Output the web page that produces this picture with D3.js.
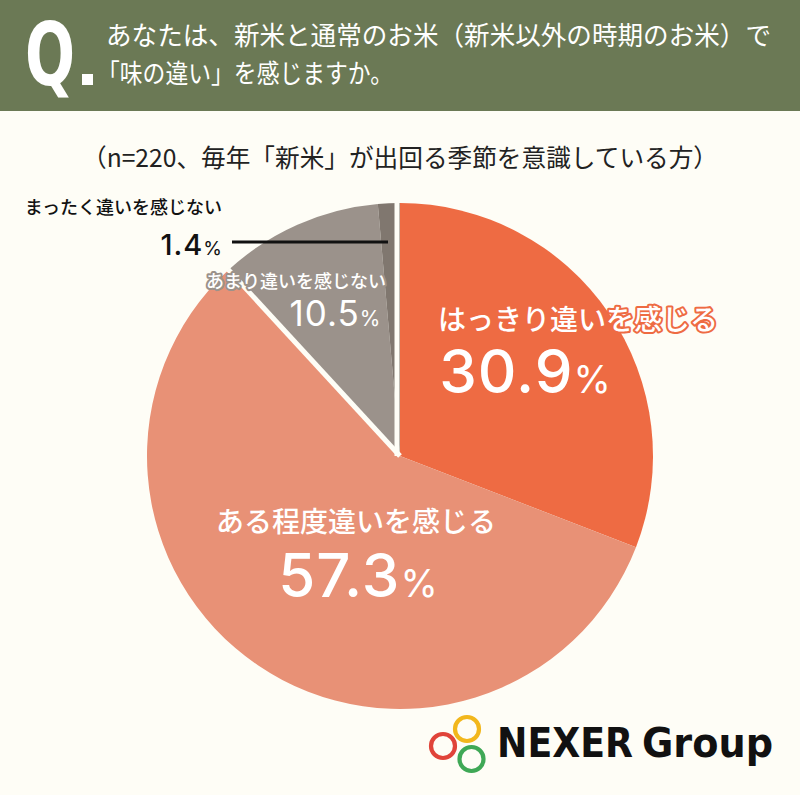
<!DOCTYPE html>
<html><head><meta charset="utf-8">
<script src="https://cdn.jsdelivr.net/npm/d3@7/dist/d3.min.js"></script>
<style>
html,body{margin:0;padding:0;background:#FEFDF6;}
svg{display:block;}
</style></head>
<body>
<svg id="chart" width="800" height="795"></svg>
<script>
// ---- data ----
const categories = ["はっきり違いを感じる","ある程度違いを感じる","あまり違いを感じない","まったく違いを感じない"];
const values = [30.9, 57.3, 10.5, 1.4];
const colors = ["#EE6B43","#E89176","#9B928B","#80776F"];
const titleLines = ["あなたは、新米と通常のお米（新米以外の時期のお米）で","「味の違い」を感じますか。"];
const subtitle = "（n=220、毎年「新米」が出回る季節を意識している方）";

// ---- layout ----
const W = 800, H = 795;
const cx = 400, cy = 456, R = 253;
const svg = d3.select("#chart");
const JP = "'Noto Sans CJK JP','Noto Sans',sans-serif";
const NUM = "Inter,'Noto Sans',sans-serif";

svg.append("rect").attr("width",W).attr("height",H).attr("fill","#FEFDF6");
svg.append("rect").attr("width",W).attr("height",111).attr("fill","#6B7955");

svg.append("text").attr("x",25).attr("y",85).text("Q")
  .attr("font-family","'Liberation Sans Narrow','DejaVu Sans Condensed',sans-serif")
  .attr("font-weight",700).attr("font-size",87).attr("fill","#fff")
  .attr("textLength",50).attr("lengthAdjust","spacingAndGlyphs");
svg.append("rect").attr("x",82).attr("y",74).attr("width",11).attr("height",11).attr("fill","#fff");

const tl = [{y:45,w:665,x:106},{y:83,w:296,x:97}];
titleLines.forEach((t,i)=>{
  svg.append("text").attr("x",tl[i].x).attr("y",tl[i].y).text(t)
    .attr("font-family",JP).attr("font-weight",400).attr("font-size",26).attr("fill","#fff")
    .attr("textLength",tl[i].w).attr("lengthAdjust","spacingAndGlyphs");
});

svg.append("text").attr("x",400).attr("y",167).attr("text-anchor","middle").text(subtitle)
  .attr("font-family",JP).attr("font-weight",400).attr("font-size",25).attr("fill","#222")
  .attr("textLength",636).attr("lengthAdjust","spacingAndGlyphs");

// ---- pie ----
const pie = d3.pie().sort(null).value(d=>d)(values);
const arc = d3.arc().innerRadius(0).outerRadius(R);
const g = svg.append("g").attr("transform",`translate(${cx},${cy})`);
g.selectAll("path").data(pie).join("path").attr("d",arc).attr("fill",(d,i)=>colors[i]);

// white separators at start of gray slice and end of dark-gray slice
function sep(angle, offX){
  const x2 = R*Math.sin(angle), y2 = -R*Math.cos(angle);
  g.append("line").attr("x1",offX).attr("y1",0).attr("x2",x2+offX).attr("y2",y2-1)
   .attr("stroke","#FEFDF6").attr("stroke-width",5);
}
sep(pie[2].startAngle, 0);
sep(pie[3].endAngle, -3);

// ---- labels ----
const labelCfg = [
  {nx:578, ny:330, nsize:28, px:525, py:393, psize:60, pct:38, fill:"#fff", anchor:"middle", w:500},
  {nx:356, ny:532, nsize:28, px:358, py:597, psize:60, pct:38, fill:"#fff", anchor:"middle", w:500},
  {nx:296, ny:288, nsize:18, px:335, py:326, psize:35, pct:21, fill:"#fff", anchor:"middle", w:400},
  {nx:222, ny:214, nsize:18, px:222, py:255, psize:29, pct:19, fill:"#111", anchor:"end", w:500}
];
categories.forEach((c,i)=>{
  const L = labelCfg[i];
  const stroke = i<3 ? colors[i] : "none";
  svg.append("text").attr("x",L.nx).attr("y",L.ny).attr("text-anchor",L.anchor).text(c)
    .attr("font-family",JP).attr("font-weight",500).attr("font-size",L.nsize)
    .attr("fill",L.fill).attr("stroke",stroke).attr("stroke-width",i<3?4:0)
    .attr("stroke-linejoin","round").attr("paint-order","stroke");
  const t = svg.append("text").attr("x",L.px).attr("y",L.py).attr("text-anchor",L.anchor)
    .attr("font-family",NUM).attr("font-weight",L.w).attr("fill",L.fill);
  t.append("tspan").attr("font-size",L.psize).attr("letter-spacing",1).text(values[i].toFixed(1));
  t.append("tspan").attr("font-size",L.pct).attr("font-weight",400).attr("letter-spacing",0).text("%");
});
// leader line for the small slice
svg.append("line").attr("x1",232).attr("x2",388).attr("y1",242).attr("y2",242)
  .attr("stroke","#111").attr("stroke-width",3);

// ---- logo ----
const logo = svg.append("g");
[{x:443,y:746,c:"#E0443A"},{x:467,y:729,c:"#F2B71C"},{x:471.5,y:759,c:"#3FA856"}].forEach(o=>{
  logo.append("circle").attr("cx",o.x).attr("cy",o.y).attr("r",12)
    .attr("fill","none").attr("stroke",o.c).attr("stroke-width",4.2);
});
logo.append("text").attr("x",497).attr("y",757).text("NEXER")
  .attr("font-family","'DejaVu Sans',sans-serif").attr("font-weight",700).attr("font-size",40)
  .attr("fill","#111").attr("textLength",136).attr("lengthAdjust","spacingAndGlyphs");
logo.append("text").attr("x",642).attr("y",757).text("Group")
  .attr("font-family","'DejaVu Sans',sans-serif").attr("font-weight",700).attr("font-size",40)
  .attr("fill","#111").attr("textLength",131).attr("lengthAdjust","spacingAndGlyphs");
</script>
</body></html>
